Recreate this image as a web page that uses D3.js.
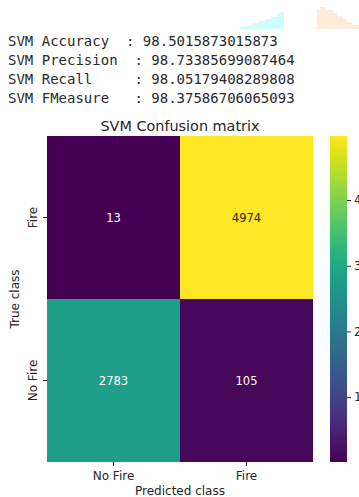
<!DOCTYPE html>
<html>
<head>
<meta charset="utf-8">
<script src="https://cdn.jsdelivr.net/npm/d3@7"></script>
<style>
  html, body { margin: 0; padding: 0; background: #fff; }
  svg { display: block; }
</style>
</head>
<body>
<svg id="chart" width="359" height="497"></svg>
<script>
// Metrics printed above the plot
const metricNames = ["SVM Accuracy  ", "SVM Precision  ", "SVM Recall     ", "SVM FMeasure   "];
const metricValues = ["98.5015873015873", "98.73385699087464", "98.05179408289808", "98.37586706065093"];

// Confusion matrix: rows = true class, columns = predicted class
const trueClasses = ["Fire", "No Fire"];
const predClasses = ["No Fire", "Fire"];
const counts = [
  [13, 4974],
  [2783, 105]
];
const colorbarTicks = [1000, 2000, 3000, 4000];

const svg = d3.select("#chart");

// Stepped decorations at the top edge
const cyanSteps = [[235, 29], [240, 27], [247, 25], [253, 23], [259, 21], [265, 19], [271, 17], [277, 14], [279, 12], [284, 12], [284, 29]];
const peachSteps = [[317, 29], [317, 10], [320, 7], [325, 7], [326, 10], [333, 13], [337, 16], [342, 19], [347, 22], [352, 25], [359, 26], [359, 29]];
function stepPath(pts) {
  let d = "M" + pts[0][0] + "," + pts[0][1];
  for (let i = 1; i < pts.length; i++) d += "H" + pts[i][0] + "V" + pts[i][1];
  return d + "Z";
}
svg.append("path").attr("d", stepPath(cyanSteps)).attr("fill", "#ccfdff");
svg.append("path").attr("d", stepPath(peachSteps)).attr("fill", "#feebd9");

// Printed metric lines
const textG = svg.append("g")
  .attr("font-family", "DejaVu Sans Mono, monospace")
  .attr("font-size", 14)
  .attr("fill", "#2a2a2a");
metricNames.forEach((n, i) => {
  textG.append("text")
    .attr("x", 8)
    .attr("y", 46 + i * 19)
    .attr("xml:space", "preserve")
    .style("white-space", "pre")
    .text(n + ": " + metricValues[i]);
});

// Heatmap geometry
const plotLeft = 47, plotRight = 313, plotTop = 136, plotBottom = 462;
const x = d3.scaleBand().domain(predClasses).range([plotLeft, plotRight]);
const y = d3.scaleBand().domain(trueClasses).range([plotTop, plotBottom]);

const flat = counts.flat();
const vmin = d3.min(flat), vmax = d3.max(flat);
const color = d3.scaleSequential(d3.interpolateViridis).domain([vmin, vmax]);

const cells = [];
trueClasses.forEach((t, i) => predClasses.forEach((p, j) => cells.push({ t, p, v: counts[i][j] })));

svg.append("g").selectAll("rect").data(cells).join("rect")
  .attr("x", d => x(d.p))
  .attr("y", d => y(d.t))
  .attr("width", x.bandwidth())
  .attr("height", y.bandwidth())
  .attr("fill", d => color(d.v));

svg.append("g").selectAll("text").data(cells).join("text")
  .attr("x", d => x(d.p) + x.bandwidth() / 2)
  .attr("y", d => y(d.t) + y.bandwidth() / 2)
  .attr("dy", "0.36em")
  .attr("text-anchor", "middle")
  .attr("font-family", "DejaVu Sans, sans-serif")
  .attr("font-size", 11.5)
  .attr("fill", d => (d.v - vmin) / (vmax - vmin) > 0.6 ? "#262626" : "#ffffff")
  .text(d => d.v);

// Axes
const fontFam = "DejaVu Sans, sans-serif";
const labelSize = 12;
const xAxis = svg.append("g")
  .attr("transform", `translate(0,${plotBottom})`)
  .call(d3.axisBottom(x).tickSize(4).tickPadding(3));
xAxis.select(".domain").remove();
xAxis.selectAll("text")
  .attr("font-family", fontFam).attr("font-size", labelSize).attr("fill", "#262626")
  .attr("dy", null).attr("y", 18);
xAxis.selectAll("line").attr("stroke", "#262626");

const yAxis = svg.append("g")
  .attr("transform", `translate(${plotLeft},0)`)
  .call(d3.axisLeft(y).tickSize(4).tickPadding(3));
yAxis.select(".domain").remove();
yAxis.selectAll("line").attr("stroke", "#262626");
yAxis.selectAll("text")
  .attr("font-family", fontFam).attr("font-size", labelSize).attr("fill", "#262626")
  .attr("text-anchor", "middle")
  .attr("x", null).attr("dy", null)
  .attr("transform", "translate(-10,0) rotate(-90)");

// Title and axis labels
svg.append("text")
  .attr("x", (plotLeft + plotRight) / 2).attr("y", 131)
  .attr("text-anchor", "middle")
  .attr("font-family", fontFam).attr("font-size", 14.4).attr("fill", "#262626")
  .text("SVM Confusion matrix");

svg.append("text")
  .attr("x", (plotLeft + plotRight) / 2).attr("y", 494.5)
  .attr("text-anchor", "middle")
  .attr("font-family", fontFam).attr("font-size", labelSize).attr("fill", "#262626")
  .text("Predicted class");

svg.append("text")
  .attr("transform", `translate(19,${(plotTop + plotBottom) / 2}) rotate(-90)`)
  .attr("text-anchor", "middle")
  .attr("font-family", fontFam).attr("font-size", labelSize).attr("fill", "#262626")
  .text("True class");

// Colorbar
const cbLeft = 330, cbWidth = 17;
const cbScale = d3.scaleLinear().domain([vmin, vmax]).range([plotBottom, plotTop]);
const defs = svg.append("defs");
const grad = defs.append("linearGradient").attr("id", "cbGrad")
  .attr("x1", 0).attr("y1", 1).attr("x2", 0).attr("y2", 0);
d3.range(0, 1.0001, 0.05).forEach(t => {
  grad.append("stop").attr("offset", t).attr("stop-color", d3.interpolateViridis(t));
});
svg.append("rect")
  .attr("x", cbLeft).attr("y", plotTop)
  .attr("width", cbWidth).attr("height", plotBottom - plotTop)
  .attr("fill", "url(#cbGrad)");

const cbAxis = svg.append("g")
  .attr("transform", `translate(${cbLeft + cbWidth},0)`)
  .call(d3.axisRight(cbScale).tickValues(colorbarTicks).tickSize(4).tickPadding(3).tickFormat(d3.format("d")));
cbAxis.select(".domain").remove();
cbAxis.selectAll("line").attr("stroke", "#262626");
cbAxis.selectAll("text").attr("font-family", fontFam).attr("font-size", labelSize).attr("fill", "#262626");
</script>
</body>
</html>
